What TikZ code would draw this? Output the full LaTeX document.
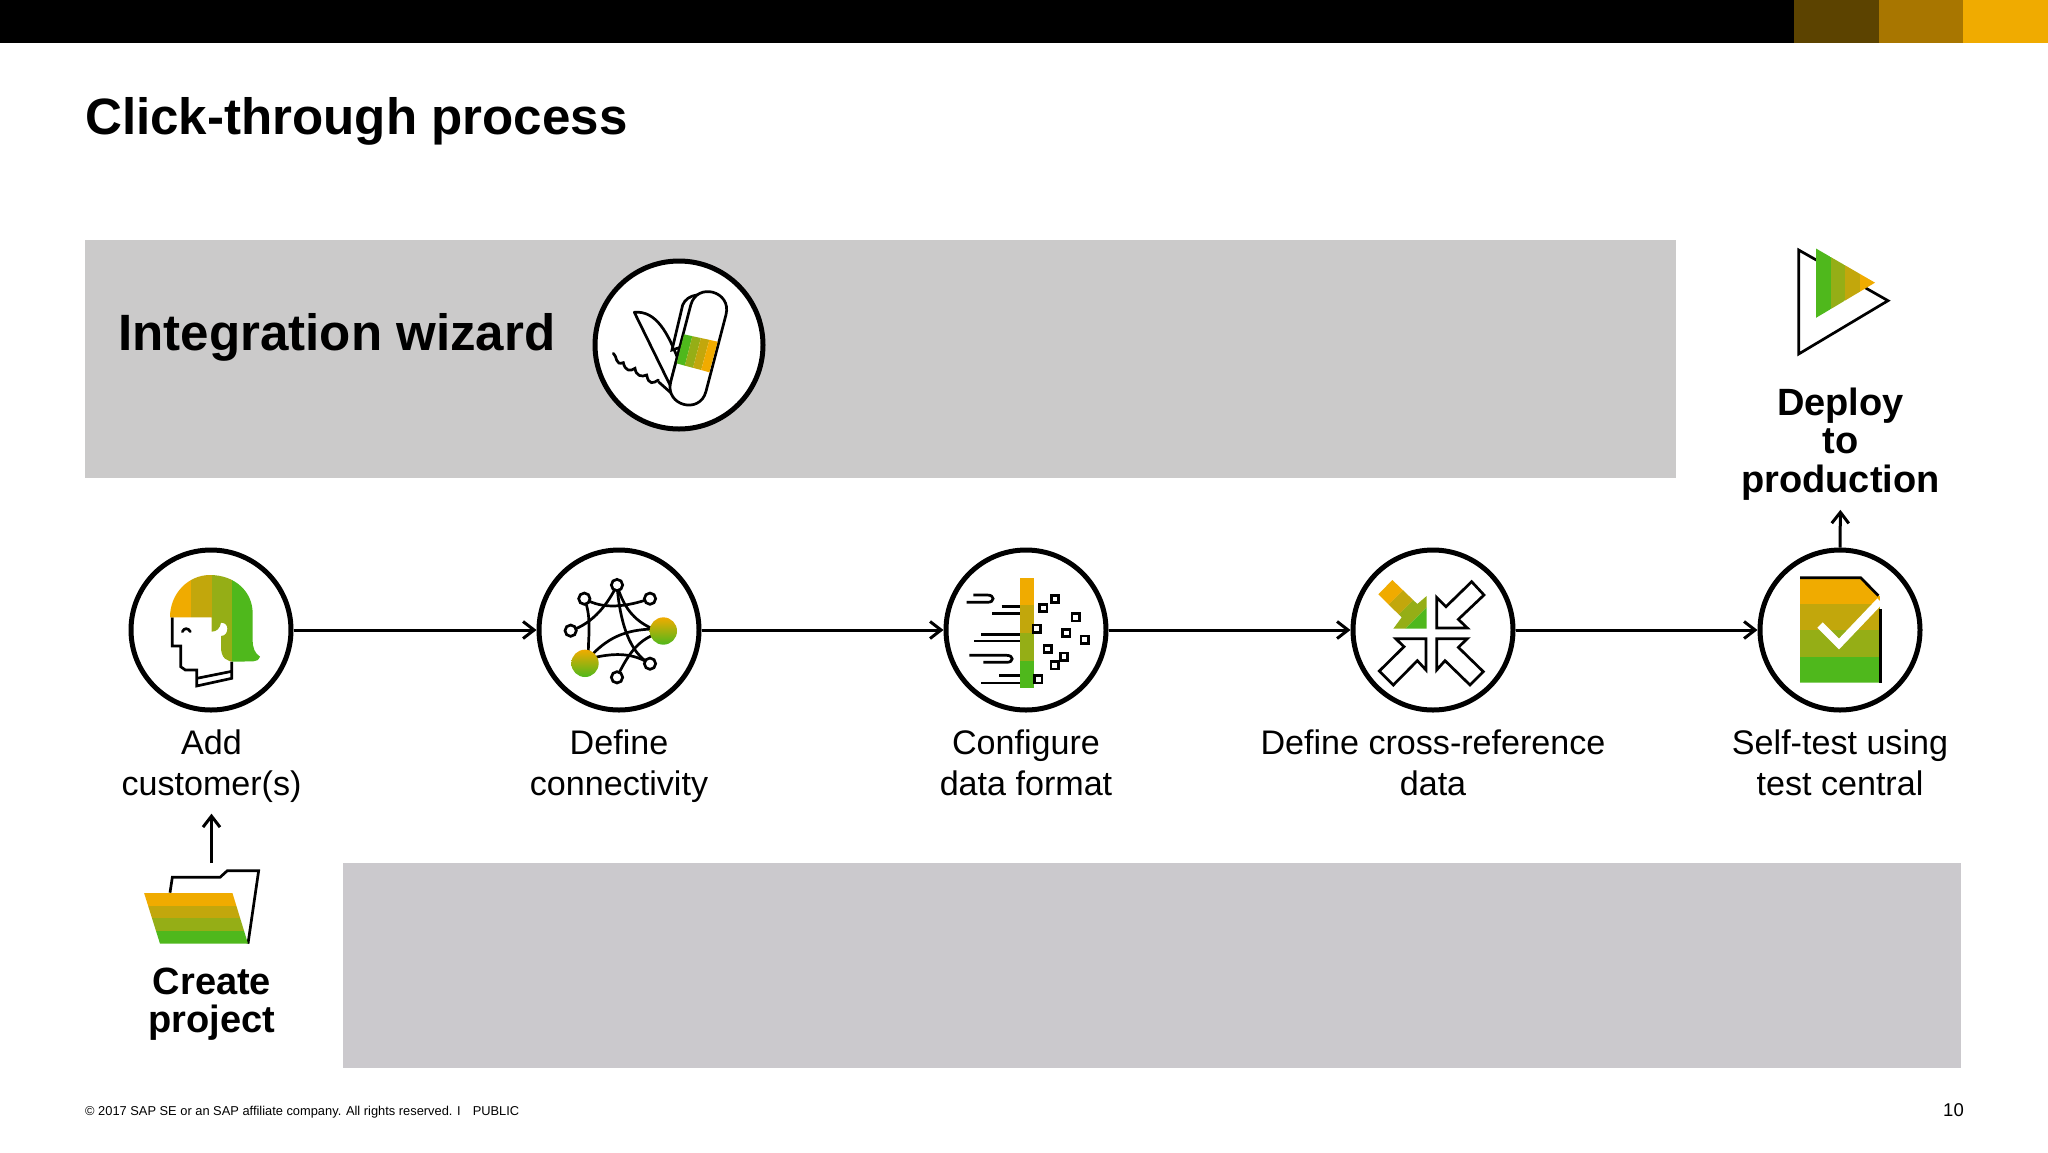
\documentclass[tikz,border=0pt]{standalone}
\usepackage{fontspec}
\setmainfont{Liberation Sans}
\usetikzlibrary{arrows.meta}
\definecolor{ca}{HTML}{F0AB00}
\definecolor{cb}{HTML}{C2A70C}
\definecolor{cc}{HTML}{95AE16}
\definecolor{cd}{HTML}{4FB81C}
\definecolor{graya}{HTML}{CBCACA}
\definecolor{grayb}{HTML}{CBC9CD}
\definecolor{bara}{HTML}{5C4300}
\definecolor{barb}{HTML}{A87600}
\tikzset{
  stepcircle/.style={circle,draw=black,fill=white,line width=5pt,minimum size=160pt,inner sep=0pt},
  conn/.style={draw=black,line width=3pt,-{Straight Barb[length=11pt,width=17pt,line width=3pt]}},
  thin line/.style={draw=black,line width=2.7pt,line join=miter},
  labeltext/.style={align=center,inner sep=0pt,anchor=north,font=\fontsize{34.1}{40.5}\selectfont},
  boldtext/.style={align=center,inner sep=0pt,anchor=north,font=\fontsize{38}{38.5}\selectfont\bfseries},
  zoomed/.style={scale=0.33333}
}
\newcommand{\hbands}[7]{% x1 x2 y0 y1 y2 y3 y4
  \fill[ca] (#1,#3) rectangle (#2,#4);
  \fill[cb] (#1,#4) rectangle (#2,#5);
  \fill[cc] (#1,#5) rectangle (#2,#6);
  \fill[cd] (#1,#6) rectangle (#2,#7);}
\begin{document}
\begin{tikzpicture}[x=1pt,y=-1pt]
\useasboundingbox (0,0) rectangle (2048,1152);
\fill[white] (0,0) rectangle (2048,1152);
% top bar
\fill[black] (0,0) rectangle (1794,43);
\fill[bara] (1794,0) rectangle (1879,43);
\fill[barb] (1879,0) rectangle (1963,43);
\fill[ca] (1963,0) rectangle (2048,43);
% title
\node[anchor=base west,inner sep=0pt,font=\fontsize{51.1}{51}\selectfont\bfseries] (title) at (85,134) {Click-through process};
% panels
\fill[graya] (85,240) rectangle (1676,478);
\fill[grayb] (343,863) rectangle (1961,1068);
\node[anchor=base west,inner sep=0pt,font=\fontsize{51.1}{51}\selectfont\bfseries] (wiztitle) at (118,350) {Integration wizard};
% circles
\node[stepcircle,minimum size=168pt] (wiz) at (679,345) {};
\node[stepcircle] (e1) at (211,630) {};
\node[stepcircle] (e2) at (619,630) {};
\node[stepcircle] (e3) at (1026,630) {};
\node[stepcircle] (e4) at (1433,630) {};
\node[stepcircle] (e5) at (1840,630) {};
% labels
\node[labeltext] (l1) at (211.5,730) {Add\\customer(s)};
\node[labeltext] (l2) at (619,730) {Define\\connectivity};
\node[labeltext] (l3) at (1026,730) {Configure\\data format};
\node[labeltext] (l4) at (1433,730) {Define cross-reference\\data};
\node[labeltext] (l5) at (1840,730) {Self-test using\\test central};
\node[boldtext] (deploy) at (1840.5,387.5) {Deploy\\to\\production};
\node[boldtext] (create) at (212,967.5) {Create\\project};
% connectors
\draw[conn] (e1) -- (e2);
\draw[conn] (e2) -- (e3);
\draw[conn] (e3) -- (e4);
\draw[conn] (e4) -- (e5);
\draw[conn,shorten >=9.5pt] (e5.north) -- (deploy.south);
\coordinate (foldertop) at (211.5,863);
\draw[conn,shorten >=11pt] (foldertop) -- (foldertop |- l1.south);
% footer
\node[anchor=base west,inner sep=0pt,font=\fontsize{12.85}{14}\selectfont] (foot) at (85,1115) {© 2017 SAP SE or an SAP affiliate company. All rights reserved. I\hspace{12pt}PUBLIC};
\node[anchor=base east,inner sep=0pt,font=\fontsize{18.5}{18}\selectfont] (pageno) at (1964,1116) {10};

% --- knife icon
\begin{scope}[shift={(570,240)},zoomed]
  \draw[thin line,line cap=round] (130,340) .. controls (142,348) and (135,378) .. (160,368) .. controls (165,392) and (180,396) .. (195,385) .. controls (198,408) and (215,412) .. (230,405) .. controls (236,436) and (250,430) .. (265,420);
  \draw[thin line] (265,425) -- (310,465);
  \draw[thin line,fill=white,line join=round] (193,217) .. controls (260,210) and (295,285) .. (322,352) -- (300,435) -- cycle;
  \draw[thin line,fill=white] (306,330) -- (338,195) .. controls (345,178) and (360,168) .. (380,165) -- (400,300) -- cycle;
  \draw[thin line,fill=white] (362,196) .. controls (380,125) and (486,153) .. (468,224) -- (408,454) .. controls (390,525) and (284,497) .. (302,426) -- cycle;
  \fill[cd] (342,283) -- (367,288.5) -- (344.5,377) -- (320,370) -- cycle;
  \fill[cc] (367,288.5) -- (392.5,294) -- (369,383.5) -- (344.5,377) -- cycle;
  \fill[cb] (392.5,294) -- (418,299.5) -- (393.5,390) -- (369,383.5) -- cycle;
  \fill[ca] (418,299.5) -- (443,305) -- (418,397) -- (393.5,390) -- cycle;
\end{scope}

% --- person icon
\begin{scope}[shift={(110,530)},zoomed]
  \draw[thin line] (187,262) -- (187,348) -- (212,348) -- (212,410) -- (226,420) -- (260,420) -- (260,468) -- (365,445) -- (365,395);
  \draw[thin line] (260,445) -- (365,424);
  \draw[thin line,line cap=round] (217,305) .. controls (222,293) and (235,293) .. (241,305);
  \begin{scope}
    \clip (180,262) .. controls (180,190) and (235,135) .. (300,135) .. controls (375,135) and (428,185) .. (428,250) -- (428,330) .. controls (428,355) and (435,370) .. (450,380) .. controls (445,390) and (440,394) .. (430,394) -- (375,395) .. controls (350,395) and (333,385) .. (333,350) -- (333,318) .. controls (348,318) and (352,305) .. (352,296) .. controls (352,285) and (345,278) .. (333,278) .. controls (330,295) and (320,305) .. (305,305) -- (305,262) -- cycle;
    \fill[ca] (170,120) rectangle (242,400);
    \fill[cb] (242,120) rectangle (305,400);
    \fill[cc] (305,120) rectangle (367,400);
    \fill[cd] (367,120) rectangle (460,400);
  \end{scope}
\end{scope}

% --- network icon
\begin{scope}[shift={(520,530)},zoomed]
  \draw[thin line] (193,206) .. controls (215,260) and (205,320) .. (205,365);
  \draw[thin line] (152,302) .. controls (220,280) and (265,220) .. (291,165);
  \draw[thin line] (193,206) .. controls (250,240) and (320,230) .. (390,206);
  \draw[thin line] (291,165) .. controls (310,230) and (340,270) .. (395,295);
  \draw[thin line] (291,165) .. controls (300,280) and (330,370) .. (390,401);
  \draw[thin line] (291,442) .. controls (320,380) and (350,335) .. (400,315);
  \draw[thin line] (220,370) .. controls (270,320) and (320,300) .. (395,297);
  \draw[thin line] (225,382) .. controls (290,368) and (340,370) .. (390,401);
  \foreach \p in {(291,165),(193,206),(390,206),(152,302),(390,401),(291,442)}
    \draw[thin line,fill=white] \p circle (17);
  \shade[top color=ca,bottom color=cd] (430,303) circle (41);
  \shade[top color=ca,bottom color=cd] (195,400) circle (41);
\end{scope}

% --- format icon
\begin{scope}[shift={(930,530)},zoomed]
  \draw[thin line] (110,217) -- (172,217) .. controls (195,217) and (195,195) .. (172,195) -- (130,195);
  \draw[thin line] (215,230) -- (272,230);
  \draw[thin line] (187,250) -- (272,250);
  \draw[thin line] (153,313) -- (272,313);
  \draw[thin line] (132,333) -- (272,333);
  \draw[thin line] (118,376) -- (230,376) .. controls (252,376) and (252,397) .. (230,397) -- (160,397);
  \draw[thin line] (208,437) -- (272,437);
  \draw[thin line] (153,459) -- (272,459);
  \hbands{270}{312}{143}{226}{309}{392}{475}
  \foreach \p in {(340,234),(375,207),(437,262),(320,296),(409,309),(464,329),(353,357),(402,380),(374,406),(325,448)}
    \draw[thin line,fill=white] \p ++(-11,-11) rectangle ++(22,22);
\end{scope}

% --- cross-reference icon
\begin{scope}[shift={(1330,530)},zoomed]
  \begin{scope}
    \clip (187,150) -- (145,193) -- (215,262) -- (190,296) -- (290,296) -- (290,198) -- (262,222) -- cycle;
    \fill[ca] (0,300) -- (300,0) -- (400,0) -- (0,400) -- cycle;
    \fill[cb] (0,400) -- (400,0) -- (460,0) -- (0,460) -- cycle;
    \fill[cc] (0,460) -- (460,0) -- (522,0) -- (0,522) -- cycle;
    \fill[cd] (0,522) -- (522,0) -- (600,0) -- (0,600) -- cycle;
  \end{scope}
  \draw[thin line] (425,155) -- (462,195) -- (385,268) -- (412,294) -- (320,294) -- (320,202) -- (348,230) -- cycle;
  \draw[thin line] (190,465) -- (148,423) -- (222,350) -- (197,326) -- (288,326) -- (288,420) -- (262,392) -- cycle;
  \draw[thin line] (420,465) -- (460,425) -- (385,352) -- (412,326) -- (320,326) -- (320,420) -- (345,392) -- cycle;
\end{scope}

% --- document icon
\begin{scope}[shift={(1740,530)},zoomed]
  \begin{scope}
    \clip (180,143) -- (362,143) -- (420,200) -- (420,458) -- (180,458) -- cycle;
    \hbands{180}{420}{143}{222}{300}{380}{458}
  \end{scope}
  \draw[thin line] (180,143) -- (362,143) -- (415,197);
  \draw[thin line] (421,237) -- (421,458);
  \draw[white,line width=7.5pt] (240,285) -- (297,342) -- (420,213);
\end{scope}

% --- deploy icon
\begin{scope}[shift={(1760,230)},zoomed]
  \draw[thin line] (116,60) -- (384,212) -- (116,372) -- cycle;
  \begin{scope}
    \clip (167,55) -- (345,158) -- (167,264) -- cycle;
    \fill[cd] (167,50) rectangle (212,270);
    \fill[cc] (212,50) rectangle (256,270);
    \fill[cb] (256,50) rectangle (300,270);
    \fill[ca] (300,50) rectangle (350,270);
  \end{scope}
\end{scope}

% --- folder icon
\begin{scope}[shift={(120,800)},zoomed]
  \draw[thin line] (150,278) -- (157,232) -- (300,232) -- (322,212) -- (416,212) -- (384,431);
  \begin{scope}
    \clip (72,278) -- (337,278) -- (384,431) -- (120,431) -- cycle;
    \hbands{60}{400}{278}{318}{355}{393}{431}
  \end{scope}
\end{scope}
\end{tikzpicture}
\end{document}
